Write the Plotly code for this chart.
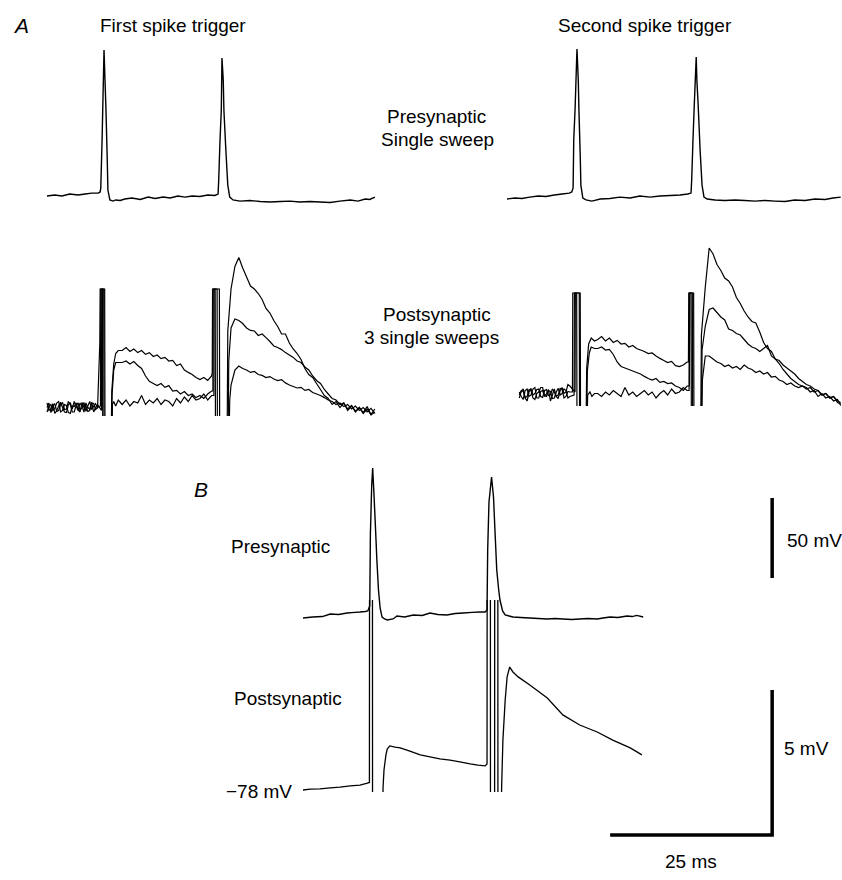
import plotly.graph_objects as go

# ======================= DATA (time in ms, voltage in mV) =======================
# ---- Panel A, first spike trigger: presynaptic single sweep [t, mV]
A1_pre = [[0.0,-60.6],[1.2,-60.0],[2.3,-60.6],[3.5,-59.4],[4.8,-60.0],[5.9,-59.4],[6.9,-58.8],[7.9,-58.8],
          [8.2,-58.1],[8.3,-55.6],[8.5,-25.6],[8.6,-6.9],[8.8,30.6],[8.95,11.9],[9.1,-6.9],[9.3,-38.1],[9.4,-56.9],
          [9.7,-63.1],[10.2,-63.8],[10.6,-63.1],[11.3,-63.4],[12.0,-62.5],[13.1,-61.9],[14.4,-62.8],[15.6,-61.3],
          [16.7,-62.2],[17.9,-61.3],[19.0,-61.9],[20.2,-60.6],[21.3,-61.3],[22.4,-60.6],[23.6,-60.9],[24.8,-60.0],
          [25.9,-60.3],[26.4,-59.4],[26.5,-50.6],[26.7,-25.6],[26.9,-6.9],[27.0,25.6],[27.2,11.9],[27.3,-6.9],
          [27.6,-31.9],[27.9,-53.8],[28.2,-61.3],[28.7,-63.1],[29.8,-63.8],[31.3,-63.4],[32.9,-64.1],[34.4,-64.4],
          [36.0,-64.1],[37.5,-63.8],[39.0,-64.4],[40.6,-64.1],[42.1,-64.4],[43.7,-64.7],[45.2,-63.8],[46.8,-63.1],
          [48.0,-63.8],[49.1,-62.5],[49.8,-62.8],[50.6,-61.3]]

# ---- Panel A, second spike trigger: presynaptic single sweep [t, mV]
A2_pre = [[0.0,-62.5],[1.2,-61.9],[2.3,-62.2],[3.5,-61.3],[4.8,-60.6],[6.0,-60.9],[7.3,-60.0],[8.5,-59.4],
          [9.6,-58.8],[10.0,-58.1],[10.2,-55.6],[10.3,-25.6],[10.5,-6.9],[10.8,31.3],[11.0,11.9],[11.1,-6.9],
          [11.3,-35.0],[11.4,-53.8],[11.7,-61.9],[12.2,-63.1],[13.1,-63.8],[14.4,-62.5],[15.9,-62.2],[17.4,-61.3],
          [19.0,-61.9],[20.5,-60.6],[22.1,-61.3],[23.6,-60.6],[25.2,-60.3],[26.7,-60.0],[27.9,-59.4],[28.4,-58.8],
          [28.5,-50.6],[28.7,-25.6],[28.9,-3.8],[29.2,26.3],[29.3,11.9],[29.5,-3.8],[29.8,-31.9],[30.1,-53.8],
          [30.4,-61.3],[30.9,-62.5],[32.1,-63.1],[33.6,-63.4],[35.2,-63.1],[36.7,-63.4],[38.3,-63.8],[39.8,-63.4],
          [41.4,-63.8],[42.9,-64.1],[44.4,-63.1],[46.0,-63.4],[47.5,-62.5],[49.1,-62.8],[50.3,-61.9],[51.5,-61.3]]

# ---- Panel A, first spike trigger: postsynaptic, 3 single sweeps (depolarisation from rest, mV)
# off-scale excursions of the stimulus artefacts are stored as -1.0 (below the shown window)
tA1_base = [0.0, 0.3, 0.6, 0.9, 1.2, 1.5, 1.8, 2.1, 2.4, 2.7, 3.0, 3.3, 3.6, 3.9, 4.2, 4.5, 4.8, 5.1, 5.4,
            5.7, 6.0, 6.3, 6.6, 6.9, 7.2, 7.5, 7.8]
tA1_mid = [11.6, 12.2, 12.8, 13.4, 14.0, 14.6, 15.2, 15.8, 16.4, 17.0, 17.6, 18.2, 18.8, 19.4, 20.0, 20.6,
           21.2, 21.8, 22.4, 23.0, 23.6, 24.2, 24.8, 25.4]
tA1_late = [28.4, 29.0, 29.6, 30.2, 30.8, 31.4, 32.0, 32.6, 33.2, 33.8, 34.4, 35.0, 35.6, 36.2, 36.8, 37.4,
            38.0, 38.6, 39.2, 39.8, 40.4, 41.0, 41.6, 42.2, 42.8, 43.4, 44.0, 44.6, 45.2, 45.8, 46.4, 47.0,
            47.6, 48.2, 48.8, 49.4, 50.0, 50.6]

A1_s1_base = [0.05, 0.2, -0.12, 0.1, 0.18, -0.08, -0.05, 0.15, 0.22, -0.02, 0.0, 0.25, 0.15, -0.1, -0.1,
              0.12, 0.2, -0.05, 0.05, 0.22, -0.08, 0.1, 0.25, -0.02, 0.1, 0.18, 0.02]
A1_s1_art1_t = [8.15, 8.2, 8.55, 8.6, 9.9, 10.0, 10.3, 10.6, 11.0]
A1_s1_art1_v = [2.2, 4.0, 4.0, -1.0, -1.0, 0.6, 1.5, 1.85, 1.95]
A1_s1_mid = [1.95, 2.05, 1.92, 2.0, 1.88, 1.95, 1.82, 1.88, 1.75, 1.8, 1.68, 1.72, 1.6, 1.62, 1.45, 1.5,
             1.3, 1.22, 1.15, 1.05, 0.98, 1.05, 0.95, 1.1]
A1_s1_art2_t = [25.5, 25.55, 25.95, 26.0, 27.8, 27.9]
A1_s1_art2_v = [1.2, 4.0, 4.0, -1.0, -1.0, 2.6]
A1_s1_late = [4.0, 4.75, 5.05, 4.7, 4.4, 4.1, 4.0, 3.85, 3.65, 3.35, 3.2, 2.95, 2.75, 2.5, 2.5, 2.2, 2.0,
              1.85, 1.65, 1.35, 1.15, 1.05, 0.85, 0.65, 0.45, 0.35, 0.15, 0.25, 0.05, 0.2, -0.05, 0.1,
              -0.1, 0.05, -0.15, 0.0, -0.2, -0.1]

A1_s2_base = [-0.1, 0.1, 0.15, -0.05, 0.02, 0.2, 0.25, -0.1, -0.05, 0.15, 0.12, -0.12, -0.15, 0.1, 0.08,
              0.2, -0.02, -0.1, 0.22, 0.05, 0.1, -0.08, -0.05, 0.2, 0.18, -0.02, 0.05]
A1_s2_art1_t = [8.25, 8.3, 8.75, 8.8, 9.95, 10.05, 10.3, 10.6, 11.0]
A1_s2_art1_v = [0.1, 4.0, 4.0, -1.0, -1.0, 0.5, 1.3, 1.55, 1.55]
A1_s2_mid = [1.55, 1.6, 1.5, 1.58, 1.45, 1.35, 1.1, 0.92, 0.85, 0.78, 0.85, 0.72, 0.78, 0.6, 0.62, 0.5,
             0.58, 0.45, 0.5, 0.38, 0.45, 0.35, 0.5, 0.6]
A1_s2_art2_t = [25.6, 25.65, 26.25, 26.3, 27.95, 28.05]
A1_s2_art2_v = [0.6, 4.0, 4.0, -1.0, -1.0, 1.6]
A1_s2_late = [2.7, 3.0, 2.95, 2.85, 2.7, 2.62, 2.6, 2.45, 2.5, 2.38, 2.25, 2.1, 2.05, 1.98, 1.88, 1.8,
              1.72, 1.6, 1.55, 1.4, 1.3, 1.1, 0.95, 0.85, 0.65, 0.5, 0.35, 0.3, 0.15, 0.2, 0.0, 0.12,
              -0.08, 0.05, -0.12, 0.08, -0.18, 0.0]

A1_s3_base = [0.2, -0.05, 0.0, 0.18, -0.15, -0.05, 0.1, 0.22, 0.05, -0.1, -0.12, 0.15, 0.2, 0.0, 0.25,
              0.1, -0.05, 0.2, 0.1, -0.1, 0.2, 0.05, 0.0, 0.22, -0.1, 0.05, 0.15]
A1_s3_art1_t = [8.4, 8.45, 8.9, 8.95, 10.0, 10.1, 10.3, 10.6, 11.0]
A1_s3_art1_v = [-0.05, 4.0, 4.0, -1.0, -1.0, 0.15, 0.25, 0.1, 0.3]
A1_s3_mid = [0.15, 0.3, 0.1, 0.25, 0.2, 0.45, 0.15, 0.3, 0.2, 0.35, 0.15, 0.3, 0.25, 0.1, 0.35, 0.2,
             0.4, 0.25, 0.45, 0.3, 0.35, 0.5, 0.3, 0.45]
A1_s3_art2_t = [25.75, 25.8, 26.6, 26.65, 28.1, 28.2]
A1_s3_art2_v = [0.45, 4.0, 4.0, -1.0, -1.0, 0.3]
A1_s3_late = [0.8, 1.3, 1.43, 1.35, 1.3, 1.22, 1.25, 1.15, 1.12, 1.05, 1.08, 1.0, 0.95, 0.98, 0.87, 0.8,
              0.75, 0.7, 0.72, 0.62, 0.65, 0.55, 0.5, 0.45, 0.38, 0.3, 0.25, 0.15, 0.2, 0.08, 0.15, 0.0,
              0.1, -0.05, 0.05, -0.1, 0.02, -0.15]

# ---- Panel A, second spike trigger: postsynaptic, 3 single sweeps (depolarisation from rest, mV)
tA2_base = [1.9, 2.2, 2.5, 2.8, 3.1, 3.4, 3.7, 4.0, 4.3, 4.6, 4.9, 5.2, 5.5, 5.8, 6.1, 6.4, 6.7, 7.0, 7.3,
            7.6, 7.9, 8.2, 8.5, 8.8, 9.1, 9.4, 9.7]
tA2_mid = [14.0, 14.6, 15.2, 15.8, 16.4, 17.0, 17.6, 18.2, 18.8, 19.4, 20.0, 20.6, 21.2, 21.8, 22.4, 23.0,
           23.6, 24.2, 24.8, 25.4, 26.0, 26.6, 27.2, 27.8]
tA2_late = [30.6, 31.2, 31.8, 32.4, 33.0, 33.6, 34.2, 34.8, 35.4, 36.0, 36.6, 37.2, 37.8, 38.4, 39.0, 39.6,
            40.2, 40.8, 41.4, 42.0, 42.6, 43.2, 43.8, 44.4, 45.0, 45.6, 46.2, 46.8, 47.4, 48.0, 48.6, 49.2,
            49.8, 50.4, 51.0, 51.5]

A2_s1_base = [0.1, -0.05, -0.15, 0.15, 0.2, -0.05, 0.0, 0.2, 0.25, -0.1, -0.1, 0.12, 0.15, -0.05, 0.05,
              0.18, -0.2, 0.0, 0.2, -0.05, 0.0, 0.22, 0.18, -0.1, -0.05, 0.12, 0.1]
A2_s1_art1_t = [10.1, 10.15, 10.75, 10.8, 12.2, 12.3, 12.6, 13.0, 13.5]
A2_s1_art1_v = [0.1, 3.4, 3.4, -1.0, -1.0, 0.9, 1.7, 1.9, 1.8]
A2_s1_mid = [1.85, 1.95, 1.8, 1.9, 1.75, 1.82, 1.7, 1.72, 1.6, 1.65, 1.55, 1.5, 1.45, 1.38, 1.4, 1.3,
             1.22, 1.15, 1.08, 1.12, 0.98, 0.95, 1.0, 1.1]
A2_s1_art2_t = [28.0, 28.05, 28.6, 28.65, 29.9, 30.0]
A2_s1_art2_v = [1.1, 3.4, 3.4, -1.0, -1.0, 2.0]
A2_s1_late = [3.6, 4.9, 4.7, 4.35, 4.15, 3.9, 3.8, 3.6, 3.25, 3.05, 2.8, 2.6, 2.45, 2.4, 2.1, 1.75, 1.55,
              1.45, 1.2, 1.05, 0.85, 0.7, 0.55, 0.45, 0.35, 0.3, 0.25, 0.1, 0.15, -0.05, 0.05, -0.1,
              -0.05, -0.2, -0.15, -0.35]

A2_s2_base = [-0.1, 0.12, 0.2, -0.08, -0.05, 0.18, 0.15, -0.1, -0.15, 0.05, 0.1, 0.25, 0.25, -0.02, -0.05,
              0.15, 0.12, -0.12, -0.1, 0.1, 0.22, 0.0, 0.05, 0.2, 0.15, -0.1, -0.05]
A2_s2_art1_t = [10.35, 10.4, 11.15, 11.2, 12.3, 12.4, 12.7, 13.0, 13.5]
A2_s2_art1_v = [0.0, 3.4, 3.4, -1.0, -1.0, 0.8, 1.4, 1.6, 1.55]
A2_s2_mid = [1.55, 1.6, 1.5, 1.52, 1.35, 1.1, 0.95, 0.9, 0.85, 0.8, 0.75, 0.7, 0.62, 0.55, 0.5, 0.55,
             0.42, 0.45, 0.38, 0.4, 0.3, 0.25, 0.15, 0.3]
A2_s2_art2_t = [28.15, 28.2, 28.8, 28.85, 30.0, 30.1]
A2_s2_art2_v = [0.3, 3.4, 3.4, -1.0, -1.0, 1.5]
A2_s2_late = [2.3, 2.85, 2.9, 2.75, 2.6, 2.5, 2.2, 2.15, 2.05, 2.0, 1.85, 1.7, 1.6, 1.55, 1.45, 1.55, 1.65,
              1.3, 1.2, 1.15, 1.0, 0.9, 0.8, 0.7, 0.55, 0.45, 0.35, 0.3, 0.2, 0.15, 0.0, 0.05, -0.1,
              -0.05, -0.25, -0.3]

A2_s3_base = [0.0, 0.15, 0.12, -0.1, -0.2, 0.1, 0.22, 0.0, 0.05, 0.18, 0.2, -0.05, -0.08, 0.15, 0.18,
              -0.02, 0.0, 0.2, 0.1, -0.05, -0.12, 0.15, 0.25, 0.05, 0.1, 0.35, 0.3]
A2_s3_art1_t = [10.5, 10.55, 11.3, 11.35, 12.35, 12.45, 12.8, 13.1, 13.5]
A2_s3_art1_v = [0.1, 3.4, 3.4, -1.0, -1.0, 0.0, 0.1, -0.05, 0.05]
A2_s3_mid = [0.05, -0.05, 0.1, 0.0, 0.15, 0.05, -0.05, 0.25, 0.0, 0.1, -0.05, 0.05, 0.15, 0.0, 0.1, -0.1,
             0.05, 0.15, 0.0, 0.2, 0.05, 0.1, 0.25, 0.15]
A2_s3_art2_t = [28.1, 28.15, 28.4, 28.45, 30.05, 30.15]
A2_s3_art2_v = [0.15, 3.4, 3.4, -1.0, -1.0, 0.5]
A2_s3_late = [1.3, 1.3, 1.2, 1.1, 1.05, 0.95, 1.0, 0.9, 0.95, 0.85, 1.0, 0.9, 0.85, 0.75, 0.8, 0.7, 0.75,
              0.6, 0.62, 0.5, 0.45, 0.35, 0.4, 0.3, 0.25, 0.3, 0.2, 0.25, 0.1, 0.15, 0.0, 0.05, -0.1,
              -0.05, -0.2, -0.25]

# ---- Panel B: averaged presynaptic spikes [t, mV]
B_pre = [[0.0,-62.5],[1.5,-61.9],[3.0,-61.6],[4.2,-60.0],[5.5,-60.3],[6.8,-59.4],[8.0,-59.0],[8.8,-58.75],
         [9.6,-58.4],[10.0,-58.1],[10.3,-55.0],[10.4,-10.0],[10.6,20.0],[10.75,31.25],[10.96,14.4],
         [11.2,-7.5],[11.4,-26.25],[11.65,-45.0],[11.9,-56.25],[12.2,-61.9],[12.6,-63.1],[13.0,-63.75],
         [13.9,-63.1],[14.5,-61.25],[15.7,-61.9],[17.0,-60.6],[18.4,-60.9],[19.6,-59.4],[20.8,-60.3],
         [22.2,-60.6],[23.5,-59.7],[24.7,-59.4],[26.1,-59.0],[27.3,-58.75],[28.1,-58.75],[28.4,-57.5],
         [28.5,-20.0],[28.7,10.0],[29.1,25.6],[29.4,13.1],[29.6,-5.6],[29.9,-32.5],[30.2,-45.0],[30.4,-51.25],
         [30.8,-58.1],[31.2,-60.6],[32.4,-61.9],[33.6,-62.2],[35.0,-62.5],[36.3,-62.8],[37.7,-63.1],
         [38.9,-62.8],[40.1,-63.1],[41.5,-63.4],[42.7,-63.1],[44.0,-62.8],[45.4,-63.1],[46.3,-62.5],
         [47.4,-61.9],[48.6,-62.2],[50.0,-61.25],[50.8,-61.6],[51.5,-60.9],[52.5,-61.9]]

# ---- Panel B: averaged postsynaptic response [t, mV]; artefacts run off-scale (-60 above, -90 below)
B_post = [[0.0,-78.00],[1.1,-77.97],[2.6,-77.96],[4.2,-77.93],[5.7,-77.90],[7.3,-77.86],[8.8,-77.83],
          [9.8,-77.77],[10.25,-77.74],[10.3,-60.0],[10.7,-60.0],[10.75,-90.0],[12.3,-90.0],[12.35,-77.93],
          [12.5,-77.31],[12.8,-76.79],[13.0,-76.59],[13.4,-76.48],[14.2,-76.52],[15.0,-76.55],[16.5,-76.66],
          [18.1,-76.79],[19.6,-76.86],[21.1,-76.93],[22.7,-76.97],[24.2,-77.03],[25.8,-77.10],[27.0,-77.14],
          [28.1,-77.17],[28.4,-77.10],[28.45,-60.0],[28.9,-60.0],[28.95,-90.0],[29.55,-90.0],[29.6,-60.0],
          [30.05,-60.0],[30.1,-90.0],[30.6,-90.0],[30.65,-77.93],[30.85,-76.28],[31.2,-74.90],[31.5,-74.10],
          [31.9,-73.76],[32.4,-73.93],[33.2,-74.10],[35.0,-74.38],[37.7,-74.83],[40.1,-75.41],[42.7,-75.76],
          [45.4,-76.00],[47.8,-76.28],[50.5,-76.55],[52.3,-76.79]]

# ---- Scale bars (panel B)
scale_time_ms = 25
scale_pre_mV = 50
scale_post_mV = 5
scale_t_end = 72.4        # ms, on panel B time axis
scale_pre_base = -37.5    # mV, on presynaptic axis
scale_post_base = -79.55  # mV, on postsynaptic axis

# ======================= LAYOUT HELPERS =======================
W, H = 842, 880
PX_MS = 6.48
PX_MV_PRE = 1.6
PX_MV_POST_A = 30.0
PX_MV_POST_B = 29.0


def xax(p0, p1, px_t0):
    return dict(domain=[p0 / W, p1 / W], range=[(p0 - px_t0) / PX_MS, (p1 - px_t0) / PX_MS],
                visible=False, fixedrange=True)


def yax(ptop, pbot, px_ref, v_ref, px_per, anchor):
    return dict(domain=[1 - pbot / H, 1 - ptop / H],
                range=[v_ref - (pbot - px_ref) / px_per, v_ref + (px_ref - ptop) / px_per],
                visible=False, anchor=anchor, fixedrange=True)


def join(tsegs, vsegs):
    t, v = [], []
    for a, b in zip(tsegs, vsegs):
        t += list(a)
        v += list(b)
    return t, v


fig = go.Figure()


def add(t, v, xa, ya, width=1.3):
    fig.add_trace(go.Scatter(x=t, y=v, mode="lines", xaxis=xa, yaxis=ya, hoverinfo="skip",
                             line=dict(color="black", width=width, simplify=False)))


# Panel A presynaptic
add([p[0] for p in A1_pre], [p[1] for p in A1_pre], "x", "y", 1.4)
add([p[0] for p in A2_pre], [p[1] for p in A2_pre], "x2", "y3", 1.4)

# Panel A postsynaptic sweeps
A1_sweeps = [
    (A1_s1_base, A1_s1_art1_t, A1_s1_art1_v, A1_s1_mid, A1_s1_art2_t, A1_s1_art2_v, A1_s1_late),
    (A1_s2_base, A1_s2_art1_t, A1_s2_art1_v, A1_s2_mid, A1_s2_art2_t, A1_s2_art2_v, A1_s2_late),
    (A1_s3_base, A1_s3_art1_t, A1_s3_art1_v, A1_s3_mid, A1_s3_art2_t, A1_s3_art2_v, A1_s3_late),
]
for b, a1t, a1v, m, a2t, a2v, l in A1_sweeps:
    t, v = join([tA1_base, a1t, tA1_mid, a2t, tA1_late], [b, a1v, m, a2v, l])
    add(t, v, "x", "y2", 1.2)

A2_sweeps = [
    (A2_s1_base, A2_s1_art1_t, A2_s1_art1_v, A2_s1_mid, A2_s1_art2_t, A2_s1_art2_v, A2_s1_late),
    (A2_s2_base, A2_s2_art1_t, A2_s2_art1_v, A2_s2_mid, A2_s2_art2_t, A2_s2_art2_v, A2_s2_late),
    (A2_s3_base, A2_s3_art1_t, A2_s3_art1_v, A2_s3_mid, A2_s3_art2_t, A2_s3_art2_v, A2_s3_late),
]
for b, a1t, a1v, m, a2t, a2v, l in A2_sweeps:
    t, v = join([tA2_base, a1t, tA2_mid, a2t, tA2_late], [b, a1v, m, a2v, l])
    add(t, v, "x2", "y4", 1.2)

# Panel B
add([p[0] for p in B_pre], [p[1] for p in B_pre], "x3", "y5", 1.4)
add([p[0] for p in B_post], [p[1] for p in B_post], "x3", "y6", 1.3)

# Scale bars
add([scale_t_end, scale_t_end], [scale_pre_base, scale_pre_base + scale_pre_mV], "x3", "y5", 3.5)
add([scale_t_end - scale_time_ms, scale_t_end, scale_t_end],
    [scale_post_base, scale_post_base, scale_post_base + scale_post_mV], "x3", "y7", 3.5)

fig.update_layout(
    width=W, height=H, margin=dict(l=0, r=0, t=0, b=0), autosize=False,
    paper_bgcolor="white", plot_bgcolor="rgba(0,0,0,0)", showlegend=False,
    xaxis=xax(40, 400, 47),
    xaxis2=xax(500, 842, 507),
    xaxis3=xax(296, 842, 303),
    yaxis=yax(40, 215, 195, -60, PX_MV_PRE, "x"),
    yaxis2=yax(240, 416, 409, 0, PX_MV_POST_A, "x"),
    yaxis3=yax(40, 215, 195, -60, PX_MV_PRE, "x2"),
    yaxis4=yax(236, 406, 395, 0, PX_MV_POST_A, "x2"),
    yaxis5=yax(455, 630, 614, -60, PX_MV_PRE, "x3"),
    yaxis6=yax(600, 792, 790, -78, PX_MV_POST_B, "x3"),
    yaxis7=yax(480, 850, 790, -78, PX_MV_POST_B, "x3"),
)

FONT = "Liberation Sans, Arial, Helvetica, sans-serif"


def label(text, px, py, xanchor="center", size=19):
    fig.add_annotation(text=text, x=px / W, y=1 - py / H, xref="paper", yref="paper",
                       xanchor=xanchor, yanchor="middle", showarrow=False,
                       font=dict(family=FONT, size=size, color="black"))


label("<i>A</i>", 21, 25, size=21)
label("First spike trigger", 173, 25)
label("Second spike trigger", 645, 25)
label("Presynaptic", 437, 117)
label("Single sweep", 438, 139)
label("Postsynaptic", 437, 314)
label("3 single sweeps", 431, 338)
label("<i>B</i>", 201, 490, size=21)
label("Presynaptic", 229, 546, xanchor="left")
label("Postsynaptic", 232, 698, xanchor="left")
label("\u221278 mV", 294, 791, xanchor="right")
label("50 mV", 785, 540, xanchor="left")
label("5 mV", 782, 748, xanchor="left")
label("25 ms", 691, 861)

fig.write_html("out.html", config={"displayModeBar": False})
